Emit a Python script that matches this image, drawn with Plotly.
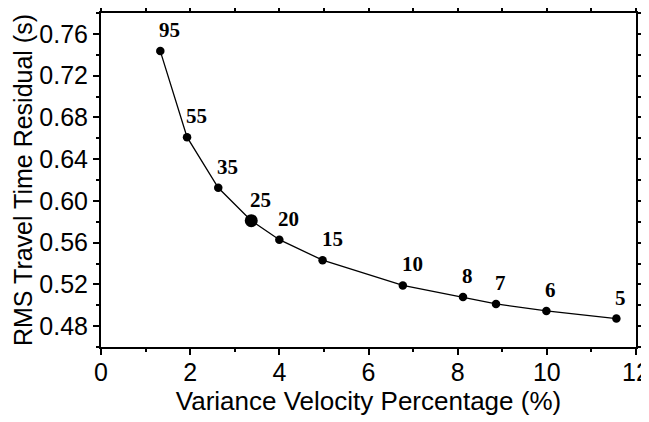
import plotly.graph_objects as go

# smoothing factor -> variance / rms residual trade-off curve
damping = ["95", "55", "35", "25", "20", "15", "10", "8", "7", "6", "5"]
variance_pct = [1.33, 1.93, 2.63, 3.37, 4.0, 4.97, 6.77, 8.12, 8.86, 9.99, 11.56]
rms_resid = [0.7435, 0.661, 0.6125, 0.581, 0.5628, 0.5432, 0.519, 0.508, 0.5013, 0.4946, 0.4872]
chosen = "25"

sizes = [13 if d == chosen else 8.5 for d in damping]

fig = go.Figure()
fig.add_trace(go.Scatter(
    x=variance_pct, y=rms_resid, mode="lines+markers",
    line=dict(color="black", width=1.3),
    marker=dict(color="black", size=sizes, line=dict(width=0), opacity=1),
    showlegend=False,
))

for d, xv, yv in zip(damping, variance_pct, rms_resid):
    fig.add_annotation(x=xv, y=yv, text="<b>%s</b>" % d, showarrow=False,
                       xanchor="left", yanchor="bottom", xshift=-3, yshift=7,
                       font=dict(family="Liberation Serif", size=21, color="black"))

axis_common = dict(
    showline=True, linecolor="black", linewidth=2, mirror="ticks",
    ticks="outside", ticklen=6, tickwidth=1.5, tickcolor="black",
    showgrid=False, zeroline=False, automargin=False, ticklabeloverflow="allow",
    tickfont=dict(family="Liberation Sans", size=25, color="black"),
)

fig.update_xaxes(range=[0, 12], dtick=2, tick0=0, ticklabelstandoff=-4,
                 minor=dict(dtick=1, ticks="outside", ticklen=3, tickcolor="black"),
                 title=dict(text="Variance Velocity Percentage (%)", standoff=0,
                            font=dict(family="Liberation Sans", size=26, color="black")),
                 **axis_common)
fig.update_yaxes(range=[0.46, 0.78], dtick=0.04, tick0=0.48, tickformat=".2f",
                 minor=dict(dtick=0.02, ticks="outside", ticklen=3, tickcolor="black"),
                 title=dict(text="RMS Travel Time Residual (s)", standoff=0,
                            font=dict(family="Liberation Sans", size=25, color="black")),
                 **axis_common)

# page body has an 8px margin, so the figure is sized to the remaining window
fig.update_layout(width=641, height=414,
                  margin=dict(l=93, r=13, t=5, b=75),
                  plot_bgcolor="white", paper_bgcolor="white")

fig.write_html("out.html")
